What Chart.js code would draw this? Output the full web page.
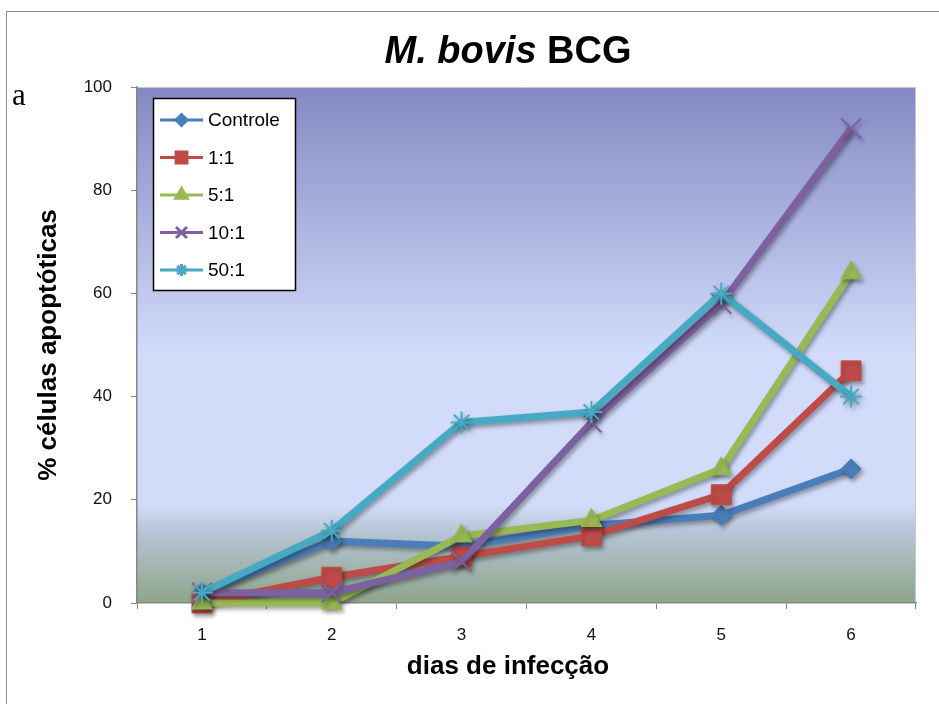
<!DOCTYPE html>
<html>
<head>
<meta charset="utf-8">
<script src="https://cdn.jsdelivr.net/npm/chart.js@4/dist/chart.umd.min.js"></script>
<style>
    html, body { margin: 0; padding: 0; background: #fff; }
    #wrap { position: relative; width: 939px; height: 704px; overflow: hidden; }
    #frame { position: absolute; left: 6px; top: 11px; width: 940px; height: 700px;
        border-left: 1px solid #8c8c8c; border-top: 1px solid #8c8c8c; }
    canvas { position: absolute; left: 0; top: 0; }
</style>
</head>
<body>
<div id="wrap">
    <div id="frame"></div>
    <canvas id="chart" width="939" height="704"></canvas>
</div>
<script>
var days = ["1", "2", "3", "4", "5", "6"];
var seriesNames = ["Controle", "1:1", "5:1", "10:1", "50:1"];
var controle = [2, 12, 11, 15, 17, 26];
var ratio1 = [0, 5, 9, 13, 21, 45];
var ratio5 = [0, 0, 13, 16, 26, 64];
var ratio10 = [2, 2, 8, 35, 58, 92];
var ratio50 = [2, 14, 35, 37, 60, 40];
var yTicks = [0, 20, 40, 60, 80, 100];

var colors = ["#4a7ebb", "#be4b48", "#98b954", "#7d60a0", "#46aac5"];
var styles = [
    { pointStyle: "rectRot", radius: 10, borderWidth: 1 },
    { pointStyle: "rect", radius: 14, borderWidth: 1 },
    { pointStyle: "triangle", radius: 12, borderWidth: 1 },
    { pointStyle: "crossRot", radius: 14, borderWidth: 2 },
    { pointStyle: "star", radius: 11, borderWidth: 2 }
];
var allValues = [controle, ratio1, ratio5, ratio10, ratio50];
var fontFamily = "'Liberation Sans', Arial, sans-serif";

var datasets = seriesNames.map(function (name, i) {
    return {
        label: name,
        data: allValues[i],
        borderColor: colors[i],
        backgroundColor: colors[i],
        borderWidth: 7,
        pointStyle: styles[i].pointStyle,
        pointRadius: styles[i].radius,
        pointBorderWidth: styles[i].borderWidth,
        pointBorderColor: colors[i],
        pointBackgroundColor: colors[i],
        tension: 0,
        clip: false,
        order: seriesNames.length - i
    };
});

// plot background, titles, "a" label, shadows and the boxed legend
var decoPlugin = {
    id: "deco",
    beforeDraw: function (chart) {
        var ctx = chart.ctx, a = chart.chartArea;
        var g = ctx.createLinearGradient(0, a.top, 0, a.bottom);
        g.addColorStop(0, "#8489c3");
        g.addColorStop(0.52, "#d2dcfa");
        g.addColorStop(0.81, "#d2dcfa");
        g.addColorStop(0.86, "#b8c5d6");
        g.addColorStop(1, "#8da58a");
        ctx.save();
        ctx.fillStyle = g;
        ctx.fillRect(a.left, a.top, a.right - a.left, a.bottom - a.top);
        ctx.strokeStyle = "#c8c8d0";
        ctx.lineWidth = 1;
        ctx.beginPath();
        ctx.moveTo(a.left, a.top + 0.5);
        ctx.lineTo(a.right - 0.5, a.top + 0.5);
        ctx.lineTo(a.right - 0.5, a.bottom);
        ctx.stroke();

        // title: italic species name + bold BCG
        var part1 = "M. bovis", part2 = " BCG";
        ctx.fillStyle = "#000";
        ctx.textBaseline = "middle";
        ctx.textAlign = "left";
        ctx.font = "italic bold 38px " + fontFamily;
        var w1 = ctx.measureText(part1).width;
        ctx.font = "bold 38px " + fontFamily;
        var w2 = ctx.measureText(part2).width;
        var x0 = 508 - (w1 + w2) / 2;
        ctx.font = "italic bold 38px " + fontFamily;
        ctx.fillText(part1, x0, 53);
        ctx.font = "bold 38px " + fontFamily;
        ctx.fillText(part2, x0 + w1, 53);

        // x axis title
        ctx.textAlign = "center";
        ctx.font = "bold 26px " + fontFamily;
        ctx.fillText("dias de infecção", 508, 667);

        ctx.textAlign = "left";
        ctx.font = "31px 'Liberation Serif', 'Times New Roman', serif";
        ctx.textBaseline = "alphabetic";
        ctx.fillText("a", 12, 105);
        ctx.restore();
    },
    beforeDatasetsDraw: function (chart) {
        var ctx = chart.ctx;
        ctx.save();
        ctx.shadowColor = "rgba(0,0,0,0.35)";
        ctx.shadowBlur = 4;
        ctx.shadowOffsetX = 2;
        ctx.shadowOffsetY = 3;
    },
    afterDatasetsDraw: function (chart) {
        var ctx = chart.ctx;
        ctx.restore();

        var bx = 153, by = 98, bw = 142, bh = 192;
        ctx.save();
        ctx.fillStyle = "#fff";
        ctx.fillRect(bx, by, bw, bh);
        ctx.strokeStyle = "#000";
        ctx.lineWidth = 1.5;
        ctx.strokeRect(bx + 0.5, by + 0.5, bw, bh);

        ctx.font = "19px " + fontFamily;
        ctx.textBaseline = "middle";
        ctx.textAlign = "left";
        chart.data.datasets.forEach(function (ds, i) {
            var y = 120 + i * 37.5;
            ctx.strokeStyle = ds.borderColor;
            ctx.lineWidth = 3;
            ctx.beginPath();
            ctx.moveTo(160, y);
            ctx.lineTo(203, y);
            ctx.stroke();
            ctx.fillStyle = ds.borderColor;
            Chart.helpers.drawPoint(ctx, {
                pointStyle: ds.pointStyle,
                radius: ds.pointRadius * 0.55,
                borderWidth: ds.pointBorderWidth,
                rotation: 0
            }, 181.5, y);
            ctx.fillStyle = "#000";
            ctx.fillText(ds.label, 208, y + 1);
        });
        ctx.restore();
    }
};

new Chart(document.getElementById("chart"), {
    type: "line",
    data: { labels: days, datasets: datasets },
    plugins: [decoPlugin],
    options: {
        responsive: false,
        animation: false,
        layout: { padding: { left: 0, right: 23, top: 87, bottom: 11 } },
        plugins: {
            legend: { display: false },
            title: { display: false },
            tooltip: { enabled: false }
        },
        scales: {
            x: {
                offset: true,
                grid: { display: true, offset: true, drawOnChartArea: false, tickLength: 6, color: "#868686" },
                border: { color: "#868686", width: 1.5 },
                ticks: { color: "#111", padding: 16, font: { size: 17, family: fontFamily } },
                afterFit: function (s) { s.height = 90; }
            },
            y: {
                min: 0, max: 100,
                afterBuildTicks: function (s) { s.ticks = yTicks.map(function (v) { return { value: v }; }); },
                grid: { display: true, drawOnChartArea: false, tickLength: 6, color: "#868686" },
                border: { color: "#868686", width: 1.5 },
                ticks: { color: "#111", padding: 19, font: { size: 17, family: fontFamily } },
                title: {
                    display: true, text: "% células apoptóticas", color: "#000",
                    font: { size: 26, weight: "bold", family: fontFamily },
                    padding: { top: 33, bottom: 0 }
                },
                afterFit: function (s) { s.width = 137; }
            }
        }
    }
});
</script>
</body>
</html>
